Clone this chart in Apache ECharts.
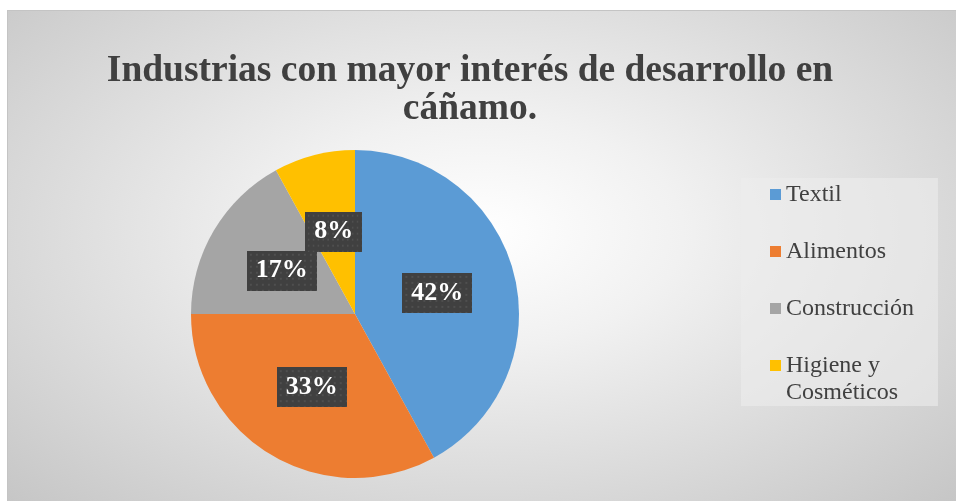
<!DOCTYPE html>
<html>
<head>
<meta charset="utf-8">
<script src="https://cdn.jsdelivr.net/npm/echarts@6/dist/echarts.min.js"></script>
<style>
  html, body { margin: 0; padding: 0; background: #ffffff; overflow: hidden; }
  #chart {
    position: absolute;
    left: 7px;
    top: 10px;
    width: 949px;
    height: 491px;
    border-top: 1px solid #c4c4c4;
    border-left: 1px solid #c4c4c4;
    box-sizing: border-box;
    background: radial-gradient(ellipse farthest-corner at 50% 45%, #ffffff 0%, #f1f1f1 30%, #c6c6c6 100%);
  }
</style>
</head>
<body>
<div id="chart"></div>
<script>
const titleText = "Industrias con mayor interés de desarrollo en\ncáñamo.";
const categories = ["Textil", "Alimentos", "Construcción", "Higiene y Cosméticos"];
const values = [42, 33, 17, 8];
const colors = ["#5b9bd5", "#ed7d31", "#a5a5a5", "#ffc000"];

// dotted dark texture behind the percent labels
const tile = document.createElement("canvas");
tile.width = 70;
tile.height = 40;
const tctx = tile.getContext("2d");
tctx.fillStyle = "#404040";
tctx.fillRect(0, 0, 70, 40);
tctx.fillStyle = "#4f4f4f";
for (let x = 3; x < 70; x += 6) {
  for (let y = 3; y < 40; y += 6) tctx.fillRect(x, y, 2, 2);
}

const myChart = echarts.init(document.getElementById("chart"));

const option = {
  backgroundColor: "transparent",
  animation: false,
  title: {
    text: titleText,
    left: 462,
    top: 41,
    textAlign: "center",
    padding: 0,
    textStyle: {
      fontFamily: "Liberation Serif",
      fontWeight: "bold",
      fontSize: 37.5,
      lineHeight: 38,
      color: "#404040",
    },
  },
  legend: [
    {
      orient: "vertical",
      left: 733,
      top: 167,
      padding: [3, 24, 27, 29],
      backgroundColor: "rgba(236,236,236,0.6)",
      itemWidth: 11,
      itemHeight: 11,
      itemGap: 30,
      icon: "rect",
      data: categories,
      formatter: (name) => (name === "Higiene y Cosméticos" ? "Higiene y" : name),
      textStyle: {
        fontFamily: "Liberation Serif",
        fontSize: 24,
        lineHeight: 27,
        color: "#404040",
      },
    },
    {
      // second line of the last legend entry
      orient: "vertical",
      left: 762,
      top: 368,
      padding: 0,
      itemWidth: 11,
      itemHeight: 11,
      data: [{ name: "Higiene y Cosméticos", icon: "none" }],
      formatter: () => "Cosméticos",
      textStyle: {
        fontFamily: "Liberation Serif",
        fontSize: 24,
        lineHeight: 27,
        color: "#404040",
      },
    },
  ],
  series: [
    {
      type: "pie",
      center: [347, 303],
      radius: 164,
      startAngle: 90,
      clockwise: true,
      avoidLabelOverlap: false,
      color: colors,
      itemStyle: { borderWidth: 0 },
      emphasis: { scale: false },
      labelLine: { show: false },
      label: {
        show: true,
        position: "inside",
        formatter: "{d}%",
        fontFamily: "Liberation Serif",
        fontWeight: "bold",
        fontSize: 26,
        lineHeight: 26,
        color: "#ffffff",
        backgroundColor: { image: tile },
        padding: [7, 9, 7, 9],
        shadowColor: "rgba(0,0,0,0.45)",
        shadowBlur: 6,
        shadowOffsetX: 4,
        shadowOffsetY: 4,
      },
      labelLayout: { hideOverlap: false },
      data: categories.map((name, i) => ({ name: name, value: values[i] })),
    },
  ],
};
myChart.setOption(option);
</script>
</body>
</html>
